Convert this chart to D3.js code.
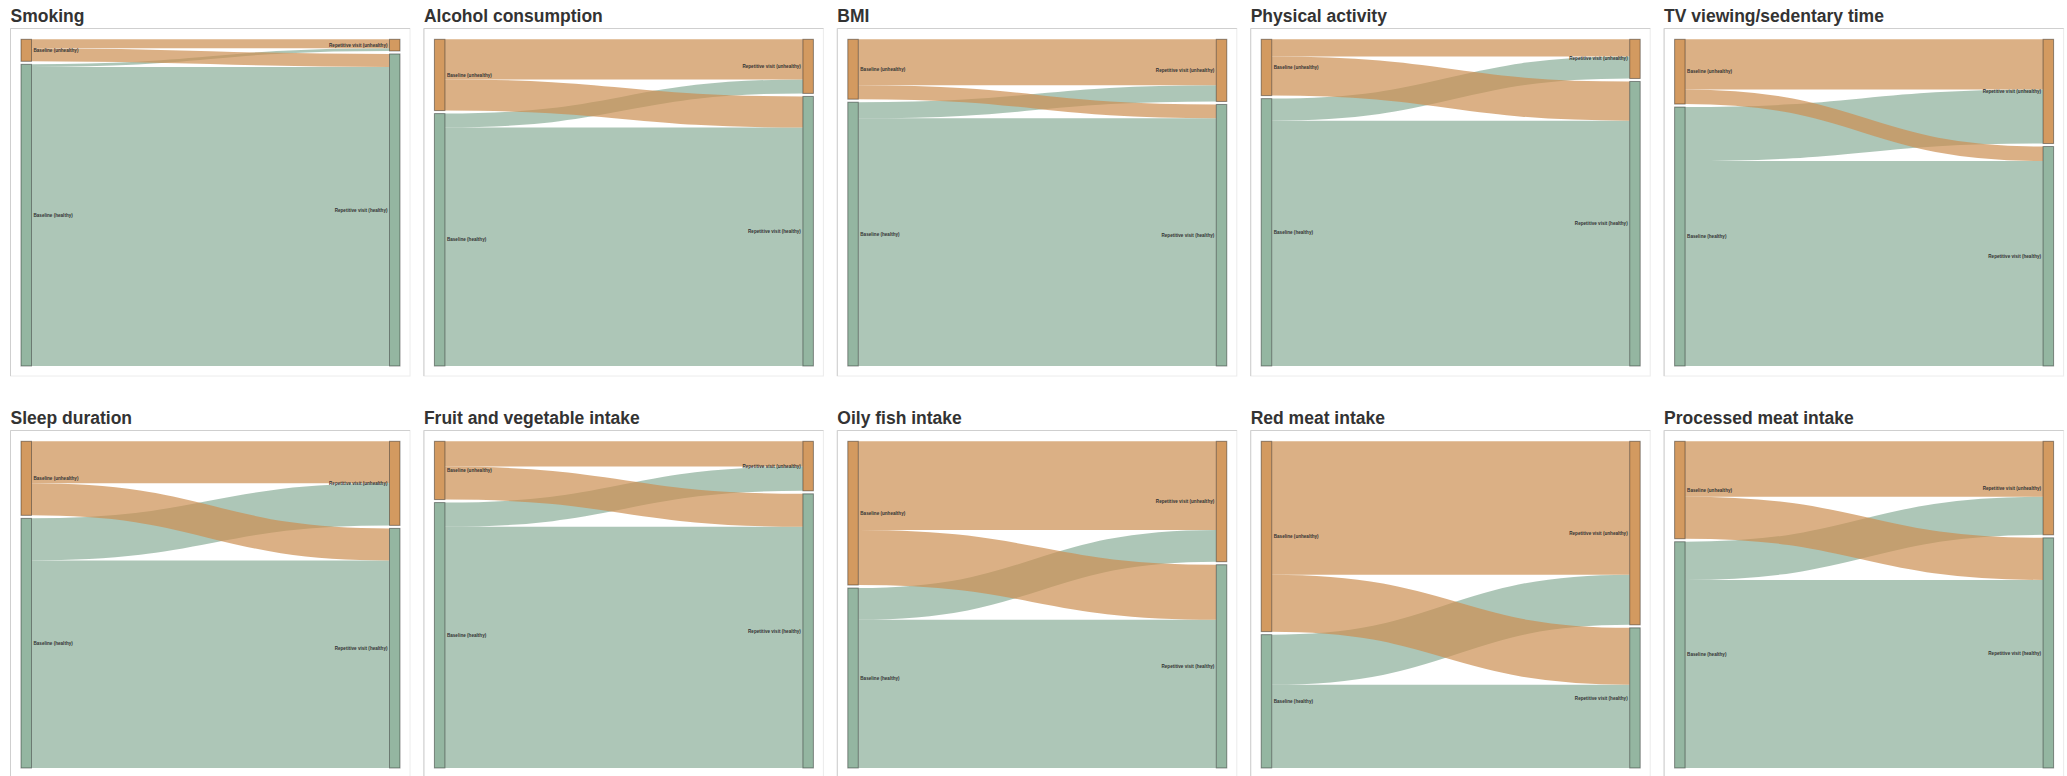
<!DOCTYPE html>
<html>
<head>
<meta charset="utf-8">
<script src="https://cdn.jsdelivr.net/npm/d3@7"></script>
<style>
  html, body { margin: 0; padding: 0; background: #fff; }
  svg { display: block; }
</style>
</head>
<body>
<svg id="chart" width="2067" height="776"></svg>
<script>
// ---- data (share of participants, %) ----
const panelTitles = ["Smoking", "Alcohol consumption", "BMI", "Physical activity", "TV viewing/sedentary time",
  "Sleep duration", "Fruit and vegetable intake", "Oily fish intake", "Red meat intake", "Processed meat intake"];
const nodeLabels = ["Baseline (unhealthy)", "Baseline (healthy)", "Repetitive visit (unhealthy)", "Repetitive visit (healthy)"];
// flows: baseline state -> repetitive visit state
const unhealthyToUnhealthy = [2.8, 12.4, 14.2, 5.3, 15.5, 13.0, 7.8, 27.4, 41.2, 17.1];
const unhealthyToHealthy   = [4.0,  9.6,  4.3, 12.1, 4.5,  9.9, 10.2, 17.0, 17.6, 13.0];
const healthyToUnhealthy   = [0.8,  4.3,  5.0,  6.8, 16.7, 13.0, 7.5,  9.8, 15.5, 11.8];
const healthyToHealthy     = [92.4, 73.6, 76.5, 75.8, 63.3, 64.2, 74.5, 45.8, 25.7, 58.1];

const W = 2067, H = 776;
const panelW = W / 5, panelH = 402;
const nodeColor = { u: "#d39a60", h: "#94b6a1" };
const linkColor = { u: "#cc8e51", h: "#8aae98" };
const nodePad = 3;

const svg = d3.select("#chart");
svg.append("rect").attr("width", W).attr("height", H).attr("fill", "#fff");

panelTitles.forEach((title, i) => {
  const col = i % 5, row = Math.floor(i / 5);
  const g = svg.append("g").attr("transform", `translate(${col * panelW},${row * panelH})`);

  g.append("text").attr("x", 10.5).attr("y", 21.5)
    .attr("font-family", "Liberation Sans, Arial, Helvetica, sans-serif")
    .attr("font-weight", "bold").attr("font-size", 17.5).attr("fill", "#333")
    .text(title);

  // card box
  g.append("rect").attr("x", 10.5).attr("y", 28.5).attr("width", 399.5).attr("height", 347.5)
    .attr("fill", "none").attr("stroke", "#ececec");
  g.append("path").attr("d", "M10.5,376V28.5H410").attr("fill", "none").attr("stroke", "#cfcfcf");

  const uu = unhealthyToUnhealthy[i], uh = unhealthyToHealthy[i];
  const hu = healthyToUnhealthy[i], hh = healthyToHealthy[i];
  const total = uu + uh + hu + hh;
  const top = 39.3, bottom = 366;
  const y = d3.scaleLinear().domain([0, total]).range([0, bottom - top - nodePad]);
  const xL = 21, xR = 389.5, nw = 10.5;

  const nodes = [
    { id: 0, x0: xL, y0: top, v: uu + uh, c: "u", side: "L" },
    { id: 1, x0: xL, y0: top + y(uu + uh) + nodePad, v: hu + hh, c: "h", side: "L" },
    { id: 2, x0: xR, y0: top, v: uu + hu, c: "u", side: "R" },
    { id: 3, x0: xR, y0: top + y(uu + hu) + nodePad, v: uh + hh, c: "h", side: "R" }
  ];
  nodes.forEach(n => { n.y1 = n.y0 + y(n.v); });

  const links = [
    { s: 1, t: 3, v: hh, so: hu, to: uh, c: "h" },
    { s: 1, t: 2, v: hu, so: 0, to: uu, c: "h" },
    { s: 0, t: 2, v: uu, so: 0, to: 0, c: "u" },
    { s: 0, t: 3, v: uh, so: uu, to: 0, c: "u" }
  ];
  const linkGen = d3.linkHorizontal().x(d => d[0]).y(d => d[1]);
  g.append("g").selectAll("path").data(links).join("path")
    .attr("d", l => {
      const sN = nodes[l.s], tN = nodes[l.t];
      const ys = sN.y0 + y(l.so) + y(l.v) / 2;
      const yt = tN.y0 + y(l.to) + y(l.v) / 2;
      return linkGen({ source: [xL + nw, ys], target: [xR, yt] });
    })
    .attr("fill", "none")
    .attr("stroke", l => linkColor[l.c])
    .attr("stroke-opacity", 0.7)
    .attr("stroke-width", l => Math.max(0.5, y(l.v)));

  g.append("g").selectAll("rect").data(nodes).join("rect")
    .attr("x", n => n.x0).attr("y", n => n.y0)
    .attr("width", nw).attr("height", n => n.y1 - n.y0)
    .attr("fill", n => nodeColor[n.c])
    .attr("stroke", "#000").attr("stroke-opacity", 0.4).attr("stroke-width", 1);

  g.append("g").selectAll("text").data(nodes).join("text")
    .attr("x", n => n.side === "L" ? n.x0 + nw + 2 : n.x0 - 2)
    .attr("y", n => (n.y0 + n.y1) / 2)
    .attr("dy", "0.35em")
    .attr("text-anchor", n => n.side === "L" ? "start" : "end")
    .attr("font-family", "Liberation Sans, Arial, sans-serif")
    .attr("font-size", 4.6).attr("font-weight", "bold").attr("fill", "#333")
    .text(n => nodeLabels[n.id]);
});
</script>
</body>
</html>
